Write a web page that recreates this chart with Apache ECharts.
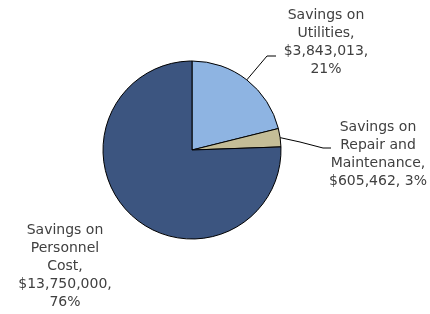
<!DOCTYPE html>
<html>
<head>
<meta charset="utf-8">
<script src="https://cdn.jsdelivr.net/npm/echarts@6/dist/echarts.min.js"></script>
<style>
html,body{margin:0;padding:0;background:#fff;}
#chart{width:430px;height:314px;}
</style>
</head>
<body>
<div id="chart"></div>
<script>
var names = ['Savings on Utilities', 'Savings on Repair and Maintenance', 'Savings on Personnel Cost'];
var values = [3843013, 605462, 13750000];
var pcts = ['21%', '3%', '76%'];
var labelText = [
  'Savings on\nUtilities,\n$3,843,013,\n21%',
  'Savings on\nRepair and\nMaintenance,\n$605,462, 3%',
  'Savings on\nPersonnel\nCost,\n$13,750,000,\n76%'
];
var colors = ['#8EB4E2', '#C4BD97', '#3C5580'];
// label anchor spots (center x, top y)
var labelSpots = [[326, 6], [378, 118], [65, 221]];
// bends + end of the leader lines (null = no line)
var leaderBends = [[[267, 56], [276, 56]], [[300, 142], [323, 148], [331, 148]], null];

var chart = echarts.init(document.getElementById('chart'));

var seriesData = [];
for (var i = 0; i < values.length; i++) {
  seriesData.push({
    name: names[i],
    value: values[i],
    itemStyle: {color: colors[i]},
    labelLine: {show: leaderBends[i] != null}
  });
}

var option = {
  backgroundColor: '#fff',
  animation: false,
  series: [{
    type: 'pie',
    center: [192, 150],
    radius: 89,
    startAngle: 90,
    clockwise: true,
    itemStyle: {borderColor: '#000', borderWidth: 1},
    label: {
      show: true,
      position: 'outside',
      color: '#404040',
      fontFamily: 'DejaVu Sans',
      fontSize: 14,
      lineHeight: 18,
      align: 'center',
      formatter: function (p) { return labelText[p.dataIndex]; }
    },
    labelLine: {
      show: true,
      length: 10,
      length2: 8,
      lineStyle: {color: '#000', width: 1}
    },
    labelLayout: function (p) {
      var s = labelSpots[p.dataIndex];
      var out = {x: s[0], y: s[1], align: 'center', verticalAlign: 'top'};
      var b = leaderBends[p.dataIndex];
      if (b && p.labelLinePoints) {
        out.labelLinePoints = [p.labelLinePoints[0]].concat(b);
      }
      return out;
    },
    data: seriesData
  }]
};
chart.setOption(option);
</script>
</body>
</html>
